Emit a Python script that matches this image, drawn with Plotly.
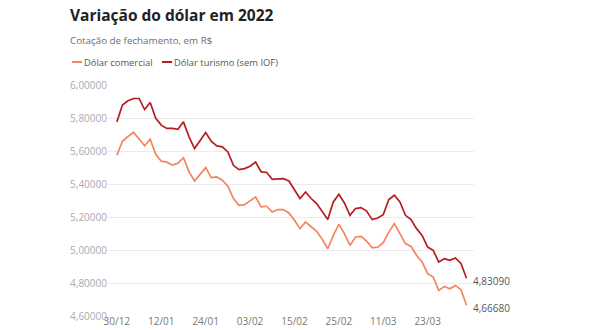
import plotly.graph_objects as go

# ---------------- data ----------------
dates = [
    "30/12",
    "03/01", "04/01", "05/01", "06/01", "07/01", "10/01", "11/01", "12/01", "13/01", "14/01",
    "17/01", "18/01", "19/01", "20/01", "21/01", "24/01", "25/01", "26/01", "27/01", "28/01", "31/01",
    "01/02", "02/02", "03/02", "04/02", "07/02", "08/02", "09/02", "10/02", "11/02", "14/02", "15/02",
    "16/02", "17/02", "18/02", "21/02", "22/02", "23/02", "24/02", "25/02",
    "02/03", "03/03", "04/03", "07/03", "08/03", "09/03", "10/03", "11/03", "14/03", "15/03",
    "16/03", "17/03", "18/03", "21/03", "22/03", "23/03", "24/03", "25/03", "28/03", "29/03",
    "30/03", "31/03", "01/04",
]

dolar_comercial = [
    5.578, 5.663, 5.692, 5.718, 5.677, 5.636, 5.676, 5.584, 5.542, 5.536,
    5.518, 5.530, 5.563, 5.477, 5.422, 5.461, 5.503, 5.442, 5.446, 5.426,
    5.390, 5.315, 5.274, 5.278, 5.300, 5.324, 5.264, 5.268, 5.233, 5.248,
    5.248, 5.227, 5.183, 5.132, 5.172, 5.146, 5.116, 5.067, 5.010, 5.091,
    5.158, 5.102, 5.030, 5.081, 5.085, 5.057, 5.016, 5.020, 5.047, 5.111,
    5.163, 5.102, 5.041, 5.024, 4.970, 4.929, 4.858, 4.838, 4.757, 4.781,
    4.767, 4.787, 4.761, 4.6668,
]

dolar_turismo = [
    5.781, 5.883, 5.909, 5.923, 5.923, 5.856, 5.899, 5.802, 5.761, 5.741,
    5.741, 5.736, 5.781, 5.690, 5.619, 5.670, 5.716, 5.663, 5.635, 5.629,
    5.598, 5.517, 5.491, 5.497, 5.511, 5.537, 5.477, 5.473, 5.432, 5.435,
    5.436, 5.422, 5.365, 5.315, 5.355, 5.315, 5.284, 5.239, 5.187, 5.294,
    5.341, 5.288, 5.213, 5.254, 5.260, 5.239, 5.187, 5.197, 5.217, 5.309,
    5.335, 5.294, 5.213, 5.187, 5.132, 5.091, 5.020, 5.000, 4.929, 4.950,
    4.939, 4.954, 4.921, 4.8309,
]

x_tick_labels = ["30/12", "12/01", "24/01", "03/02", "15/02", "25/02", "11/03", "23/03"]
y_tick_values = [4.6, 4.8, 5.0, 5.2, 5.4, 5.6, 5.8, 6.0]

series_names = ["Dólar comercial", "Dólar turismo (sem IOF)"]
title_text = "Variação do dólar em 2022"
subtitle_text = "Cotação de fechamento, em R$"

# ---------------- style ----------------
C_COM = "#F4845F"
C_TUR = "#B71C22"
FONT = "Open Sans"
W, H = 590, 330
ML, MR, MT, MB = 108, 116, 85, 13
PW, PH = W - ML - MR, H - MT - MB


def px_x(px):
    return (px - ML) / PW


def px_y(py):
    return (H - MB - py) / PH


fig = go.Figure()
for name, vals, col in [(series_names[0], dolar_comercial, C_COM),
                        (series_names[1], dolar_turismo, C_TUR)]:
    fig.add_trace(go.Scatter(x=dates, y=vals, mode="lines", name=name,
                             line=dict(color=col, width=1.7), hoverinfo="skip"))

# end labels
for vals in (dolar_turismo, dolar_comercial):
    fig.add_annotation(x=dates[-1], y=vals[-1], xref="x", yref="y",
                       text=f"{vals[-1]:.5f}".replace(".", ","),
                       showarrow=False, xanchor="left", yanchor="middle",
                       xshift=4, yshift=-2.5,
                       font=dict(family=FONT, size=10, color="#555555"))

# subtitle
fig.add_annotation(x=px_x(68), y=px_y(41), xref="paper", yref="paper",
                   text=subtitle_text, showarrow=False, xanchor="left", yanchor="middle",
                   font=dict(family=FONT, size=9.8, color="#6e6e6e"))

# legend (manual, compact): swatch line + label
for sx, tx, name, col in [(72, 82, series_names[0], C_COM), (162, 172, series_names[1], C_TUR)]:
    fig.add_shape(type="line", xref="paper", yref="paper",
                  x0=px_x(sx), x1=px_x(tx), y0=px_y(62), y1=px_y(62),
                  line=dict(color=col, width=2))
    fig.add_annotation(x=px_x(tx), y=px_y(62), xref="paper", yref="paper",
                       text=name, showarrow=False, xanchor="left", yanchor="middle",
                       font=dict(family=FONT, size=9.4, color="#555555"))

fig.update_layout(
    width=W, height=H,
    margin=dict(l=ML, r=MR, t=MT, b=MB, autoexpand=False),
    paper_bgcolor="white", plot_bgcolor="white",
    separators=",.",
    showlegend=False,
    title=dict(text=f"<b>{title_text}</b>", x=70 / W, xref="container", xanchor="left",
               y=1 - 16 / H, yref="container", yanchor="middle",
               font=dict(family=FONT, size=15.5, color="#222222")),
)
fig.update_xaxes(type="category", tickmode="array", tickvals=x_tick_labels,
                 ticktext=x_tick_labels, range=[-1.6, len(dates) + 0.35],
                 showgrid=False, showline=False, zeroline=False, ticks="",
                 automargin=False, ticklabelstandoff=-3,
                 tickfont=dict(family=FONT, size=10, color="#777777"))
fig.update_yaxes(range=[4.595, 6.005], tickmode="array", tickvals=y_tick_values,
                 tickformat=".5f", showgrid=True, gridcolor="#ebebeb", gridwidth=1,
                 showline=False, zeroline=False, ticks="", automargin=False,
                 tickfont=dict(family=FONT, size=10, color="#aaaaaa"))

fig.write_html("out.html")
